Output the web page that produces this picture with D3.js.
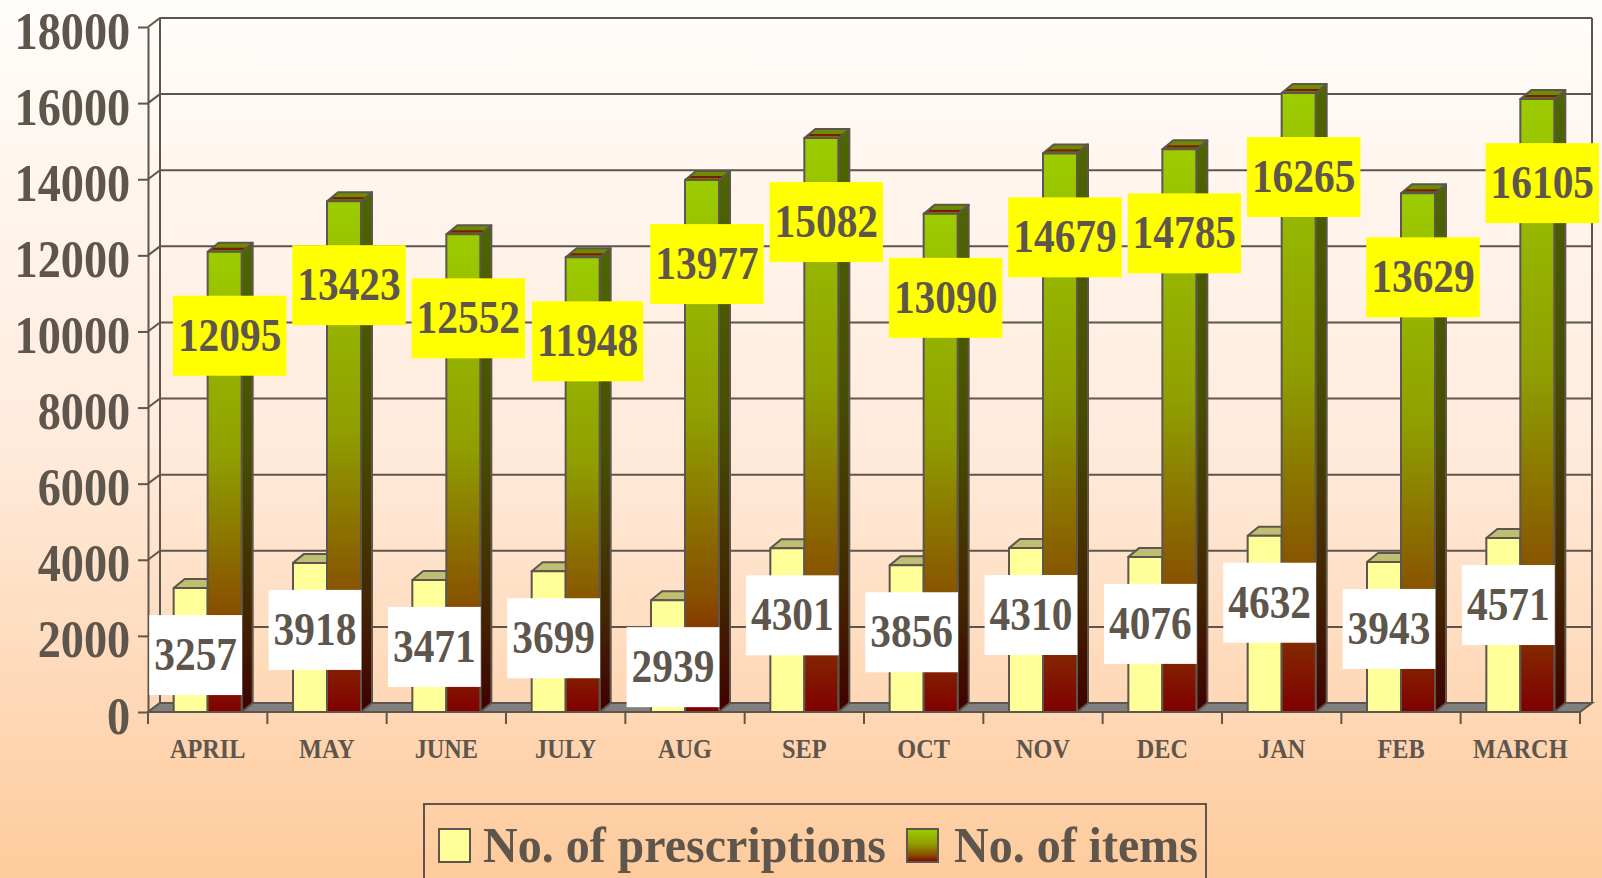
<!DOCTYPE html>
<html>
<head>
<style>
body{
    margin: 0;
    overflow: hidden;
}
text{
    font-family: "Times New Roman", "Liberation Serif", serif;
    font-weight: bold;
    fill: #5e564c;
}
</style>
</head>
<body>
<svg id="chart"></svg>

<script src="https://cdn.jsdelivr.net/npm/d3@7/dist/d3.min.js"></script>
<script>
var months = ['APRIL', 'MAY', 'JUNE', 'JULY', 'AUG', 'SEP', 'OCT', 'NOV', 'DEC', 'JAN', 'FEB', 'MARCH'];
var prescriptions = [3257, 3918, 3471, 3699, 2939, 4301, 3856, 4310, 4076, 4632, 3943, 4571];
var items = [12095, 13423, 12552, 11948, 13977, 15082, 13090, 14679, 14785, 16265, 13629, 16105];
var yTicks = [0, 2000, 4000, 6000, 8000, 10000, 12000, 14000, 16000, 18000];
var seriesNames = ['No. of prescriptions', 'No. of items'];

var width = 1602;
var height = 878;
var ink = '#5e564c';
var dx = 12, dy = 9;       // 3d depth of the walls
var bdx = 11, bdy = 9;     // depth of the bars

var svg = d3.select('#chart')
    .attr('width', width)
    .attr('height', height);

var defs = svg.append('defs');

function gradient(id, stops) {
    var g = defs.append('linearGradient').attr('id', id)
        .attr('x1', 0).attr('y1', 0).attr('x2', 0).attr('y2', 1);
    stops.forEach(function (s) {
        g.append('stop').attr('offset', s[0]).attr('stop-color', s[1]);
    });
}
gradient('bg', [[0, '#fffdfb'], [0.5, '#ffebdc'], [1, '#fecb9c']]);
gradient('itemFront', [[0, '#9ccc00'], [0.45, '#8f9e00'], [0.78, '#885000'], [1, '#800000']]);
gradient('itemSide', [[0, '#4d6600'], [0.45, '#474e00'], [0.78, '#432700'], [1, '#400000']]);
gradient('itemTop', [[0, '#6f8c00'], [0.5, '#6f8c00'], [0.6, '#7a1e00'], [0.75, '#7a1e00'], [0.85, '#6f8c00'], [1, '#6f8c00']]);

svg.append('rect')
    .attr('width', width)
    .attr('height', height)
    .attr('fill', 'url(#bg)');

var x = d3.scaleBand().domain(months).range([148, 1580]);
var sub = d3.scaleBand().domain(seriesNames).range([0, x.bandwidth()]).paddingOuter(0.755);
var y = d3.scaleLinear().domain([0, 18000]).range([712, 27]);

var x0 = x.range()[0], x1 = x.range()[1];

// walls
var walls = svg.append('g')
    .attr('stroke', ink)
    .attr('stroke-width', 2)
    .attr('fill', 'none');

walls.selectAll('.grid').data(yTicks)
    .enter().append('path')
    .attr('class', 'grid')
    .attr('d', function (d) {
        return 'M' + x0 + ',' + y(d) + 'L' + (x0 + dx) + ',' + (y(d) - dy) + 'H' + (x1 + dx);
    });

walls.append('path')
    .attr('d', 'M' + (x0 + dx) + ',' + (y(0) - dy) + 'V' + (y(18000) - dy) +
        'M' + (x1 + dx) + ',' + (y(0) - dy) + 'V' + (y(18000) - dy));

// floor
svg.append('path')
    .attr('d', 'M' + x0 + ',' + y(0) + 'L' + x1 + ',' + y(0) + 'L' + (x1 + dx) + ',' + (y(0) - dy) +
        'L' + (x0 + dx) + ',' + (y(0) - dy) + 'Z')
    .attr('fill', '#808080')
    .attr('stroke', ink)
    .attr('stroke-width', 2);

// bars
function drawBars(values, key, front, top, side) {
    var g = svg.append('g')
        .attr('stroke', ink)
        .attr('stroke-width', 2)
        .attr('stroke-linejoin', 'round');
    var bars = g.selectAll('.bar').data(values)
        .enter().append('g')
        .attr('class', 'bar');
    var bx = function (d, i) { return x(months[i]) + sub(key); };
    var w = sub.bandwidth();

    bars.append('path')
        .attr('fill', side)
        .attr('d', function (d, i) {
            var l = bx(d, i) + w;
            return 'M' + l + ',' + y(d) + 'L' + (l + bdx) + ',' + (y(d) - bdy) +
                'L' + (l + bdx) + ',' + (y(0) - bdy) + 'L' + l + ',' + y(0) + 'Z';
        });
    bars.append('path')
        .attr('fill', top)
        .attr('d', function (d, i) {
            var l = bx(d, i);
            return 'M' + l + ',' + y(d) + 'L' + (l + bdx) + ',' + (y(d) - bdy) +
                'L' + (l + w + bdx) + ',' + (y(d) - bdy) + 'L' + (l + w) + ',' + y(d) + 'Z';
        });
    bars.append('rect')
        .attr('fill', front)
        .attr('x', bx)
        .attr('y', function (d) { return y(d); })
        .attr('width', w)
        .attr('height', function (d) { return y(0) - y(d); });
}

drawBars(prescriptions, seriesNames[0], '#ffff99', '#bfbf73', '#bfbf73');
drawBars(items, seriesNames[1], 'url(#itemFront)', 'url(#itemTop)', 'url(#itemSide)');

// y axis
var yAxis = svg.append('g')
    .attr('transform', 'translate(' + x0 + ',0)')
    .call(d3.axisLeft(y).tickValues(yTicks).tickSize(10).tickSizeOuter(0).tickFormat(d3.format('d')));
yAxis.select('.domain').attr('stroke', ink).attr('stroke-width', 2);
yAxis.selectAll('.tick line').attr('stroke', ink).attr('stroke-width', 2);
yAxis.selectAll('.tick text')
    .attr('fill', ink)
    .attr('font-size', 52)
    .attr('font-family', null)
    .attr('x', -20)
    .attr('y', 21)
    .attr('dy', null)
    .attr('transform', 'scale(0.89,1)');

// x axis
var xAxis = svg.append('g')
    .attr('transform', 'translate(0,' + y(0) + ')');
xAxis.append('path')
    .attr('d', 'M' + x0 + ',0H' + x1)
    .attr('stroke', ink)
    .attr('stroke-width', 2);
xAxis.selectAll('.xtick').data(months.concat(['end']))
    .enter().append('line')
    .attr('class', 'xtick')
    .attr('x1', function (d) { return d === 'end' ? x1 : x(d); })
    .attr('x2', function (d) { return d === 'end' ? x1 : x(d); })
    .attr('y1', 0)
    .attr('y2', 12)
    .attr('stroke', ink)
    .attr('stroke-width', 2);
xAxis.selectAll('.xlabel').data(months)
    .enter().append('text')
    .attr('class', 'xlabel')
    .attr('transform', function (d) {
        return 'translate(' + (x(d) + x.bandwidth() / 2) + ',46) scale(0.9,1)';
    })
    .attr('text-anchor', 'middle')
    .attr('font-size', 27)
    .text(function (d) { return d; });

// value labels
function drawLabels(values, key, fill, offset) {
    var g = svg.append('g');
    var lab = g.selectAll('.lab').data(values)
        .enter().append('g')
        .attr('class', 'lab')
        .attr('transform', function (d, i) {
            var cx = x(months[i]) + sub(key) + sub.bandwidth() / 2 + 5;
            return 'translate(' + cx + ',' + (y(d) + offset) + ')';
        });
    var rects = lab.append('rect').attr('fill', fill);
    var texts = lab.append('text')
        .attr('text-anchor', 'middle')
        .attr('font-size', 46)
        .attr('y', 15)
        .attr('transform', 'scale(0.9,1)')
        .text(function (d) { return d; });
    texts.each(function (d, i) {
        var w = this.getComputedTextLength() * 0.9 + 10;
        d3.select(rects.nodes()[i])
            .attr('x', -w / 2)
            .attr('y', -40)
            .attr('width', w)
            .attr('height', 80);
    });
}
drawLabels(prescriptions, seriesNames[0], '#ffffff', 67);
drawLabels(items, seriesNames[1], '#ffff00', 84);

// legend
var legend = svg.append('g');
legend.append('rect')
    .attr('x', 424)
    .attr('y', 804)
    .attr('width', 782)
    .attr('height', 100)
    .attr('fill', 'none')
    .attr('stroke', ink)
    .attr('stroke-width', 2);

var legendItems = [
    {name: seriesNames[0], fill: '#ffff99', sx: 439, tx: 483},
    {name: seriesNames[1], fill: 'url(#itemFront)', sx: 907, tx: 954}
];
legendItems.forEach(function (d) {
    legend.append('rect')
        .attr('x', d.sx)
        .attr('y', 829)
        .attr('width', 31)
        .attr('height', 33)
        .attr('fill', d.fill)
        .attr('stroke', ink)
        .attr('stroke-width', 2);
    legend.append('text')
        .attr('transform', 'translate(' + d.tx + ',862) scale(0.96,1)')
        .attr('font-size', 50)
        .text(d.name);
});
</script>
</body>
</html>
